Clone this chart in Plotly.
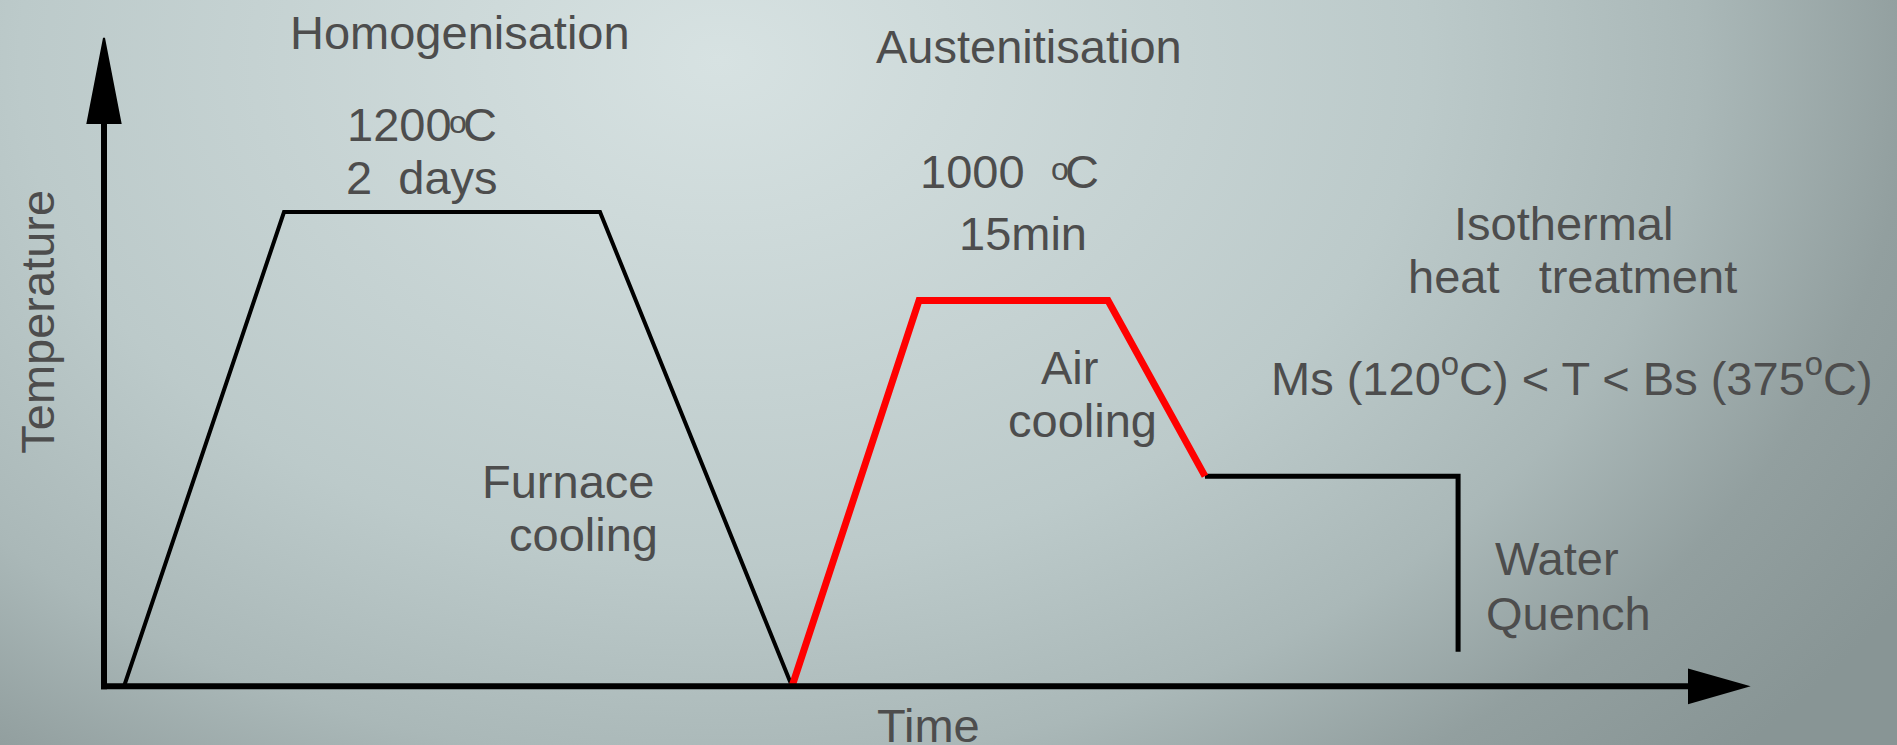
import base64
import plotly.graph_objects as go

# ---- schematic heat-treatment route (time in arbitrary units, temperature in degC) ----
T_AXIS = 128          # temperature level of the time axis
HOMOG_TIME = [1.25, 11.25, 31.0, 43.0]
HOMOG_TEMP = [T_AXIS, 1200, 1200, T_AXIS]
AUST_TIME = [43.0, 50.94, 62.75, 68.81]
AUST_TEMP = [T_AXIS, 1000, 1000, 603]
ISO_TIME = [68.81, 84.63, 84.63]
ISO_TEMP = [603, 603, 206]

W, H = 1897, 745
PX_PER_T = 16.0       # px per time unit
PX_PER_DEG = 0.4425   # px per degC
X0 = -6.5
X1 = X0 + W / PX_PER_T
Y1 = 743 / PX_PER_DEG
Y0 = Y1 - H / PX_PER_DEG

FONT = "Liberation Sans, Arial, sans-serif"
TXT = "#4d4d4d"
FS = 47
NB = "\u00a0"

# text labels: (text, anchor x px, baseline y px, xanchor, font size)
LABELS = [
    ("Homogenisation", 460, 49, "center", FS),
    ("1200", 452, 141, "right", FS),
    ("o", 458, 141 - 8, "center", 32),
    ("C", 463, 141, "left", FS),
    ("2" + NB * 2 + "days", 422, 194, "center", FS),
    ("Austenitisation", 1029, 63, "center", FS),
    ("1000", 1025, 188, "right", FS),
    ("o", 1060, 188 - 8, "center", 32),
    ("C", 1065, 188, "left", FS),
    ("15min", 1023, 250, "center", FS),
    ("Isothermal", 1563, 240, "center", FS),
    ("heat" + NB * 3 + "treatment", 1572, 293, "center", FS),
    ("Ms (120<sup>o</sup>C) &lt; T &lt; Bs (375<sup>o</sup>C)", 1572, 391, "center", FS),
    ("Air", 1069, 384, "center", FS),
    ("cooling", 1082, 437, "center", FS),
    ("Furnace", 568, 498, "center", FS),
    ("cooling", 583, 551, "center", FS),
    ("Water", 1557, 575, "center", FS),
    ("Quench", 1568, 630, "center", FS),
    ("Time", 928, 742, "center", FS),
]

fig = go.Figure()
fig.add_trace(go.Scatter(x=HOMOG_TIME, y=HOMOG_TEMP, mode="lines",
                         line=dict(color="black", width=4), hoverinfo="skip"))
fig.add_trace(go.Scatter(x=ISO_TIME, y=ISO_TEMP, mode="lines",
                         line=dict(color="black", width=5), hoverinfo="skip"))
fig.add_trace(go.Scatter(x=AUST_TIME, y=AUST_TEMP, mode="lines",
                         line=dict(color="#ff0000", width=7), hoverinfo="skip"))

# axes drawn as thick arrows
dt = lambda px: px / PX_PER_T
dT = lambda px: px / PX_PER_DEG
y_base = T_AXIS + dT(686.4 - 123)
y_tip = y_base + dT(85)
x_base = dt(1689 - 104)
x_tip = x_base + dt(58)
shapes = [
    dict(type="line", xref="x", yref="y", x0=0, x1=0, y0=T_AXIS - dT(3), y1=y_base,
         line=dict(color="black", width=6)),
    dict(type="line", xref="x", yref="y", x0=-dt(3), x1=x_base, y0=T_AXIS, y1=T_AXIS,
         line=dict(color="black", width=6)),
    dict(type="path", xref="x", yref="y",
         path=f"M{-dt(16.5)},{y_base} L{dt(16.5)},{y_base} L0,{y_tip} Z",
         fillcolor="black", line=dict(color="black", width=2)),
    dict(type="path", xref="x", yref="y",
         path=f"M{x_base},{T_AXIS + dT(16.5)} L{x_base},{T_AXIS - dT(16.5)} L{x_tip},{T_AXIS} Z",
         fillcolor="black", line=dict(color="black", width=2)),
]

annotations = []
for text, ax_px, base, anchor, size in LABELS:
    annotations.append(dict(text=text, xref="paper", yref="paper",
                            x=ax_px / W, y=1 - (base - 0.3465 * size) / H,
                            xanchor=anchor, yanchor="middle", showarrow=False,
                            borderpad=0, borderwidth=0,
                            font=dict(family=FONT, size=size, color=TXT)))
annotations.append(dict(text="Temperature", xref="paper", yref="paper",
                        x=36.7 / W, y=1 - 322 / H, textangle=-90,
                        xanchor="center", yanchor="middle", showarrow=False,
                        font=dict(family=FONT, size=FS, color=TXT)))

# soft grey backdrop
svg = (
    f"<svg xmlns='http://www.w3.org/2000/svg' width='{W}' height='{H}' viewBox='0 0 {W} {H}' preserveAspectRatio='none'>"
    "<defs><radialGradient id='g' gradientUnits='userSpaceOnUse' cx='720' cy='60' r='1400' "
    "gradientTransform='translate(720 60) scale(1 0.72) translate(-720 -60)'>"
    "<stop offset='0' stop-color='#d7e2e2'/>"
    "<stop offset='0.5' stop-color='#bccaca'/>"
    "<stop offset='0.7' stop-color='#aab8b8'/>"
    "<stop offset='0.85' stop-color='#929f9f'/>"
    "<stop offset='1' stop-color='#889595'/>"
    "</radialGradient></defs>"
    f"<rect width='{W}' height='{H}' fill='url(#g)'/></svg>"
)
bg = "data:image/svg+xml;base64," + base64.b64encode(svg.encode()).decode()

fig.update_layout(
    width=W, height=H, margin=dict(l=0, r=0, t=0, b=0),
    paper_bgcolor="#b4c2c2", plot_bgcolor="rgba(0,0,0,0)",
    showlegend=False,
    xaxis=dict(range=[X0, X1], visible=False, fixedrange=True),
    yaxis=dict(range=[Y0, Y1], visible=False, fixedrange=True),
    shapes=shapes, annotations=annotations,
    images=[dict(source=bg, xref="paper", yref="paper", x=0, y=1, sizex=1, sizey=1,
                 xanchor="left", yanchor="top", sizing="stretch", layer="below")],
)

fig.write_html("out.html", config={"displayModeBar": False})
